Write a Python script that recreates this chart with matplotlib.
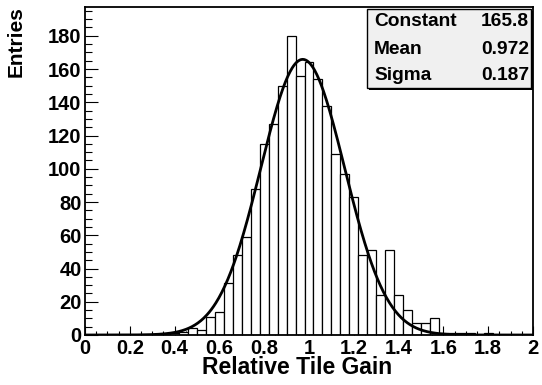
import numpy as np
import matplotlib
matplotlib.use("Agg")
import matplotlib.pyplot as plt
from matplotlib.patches import Rectangle
from matplotlib.ticker import MultipleLocator, FixedLocator

plt.rcParams['font.family'] = ['Liberation Sans', 'DejaVu Sans']
plt.rcParams['font.weight'] = 'bold'

# ---- data ----
bin_centers = [round(0.04 * i, 2) for i in range(51)]
counts = [0, 0, 0, 0, 0, 0, 0, 0, 0, 0,      # 0.00 - 0.36
          1, 2, 4, 3, 11, 14, 31, 48, 59, 88,  # 0.40 - 0.76
          115, 127, 150, 180, 156, 164, 154, 138, 109, 97,  # 0.80 - 1.16
          83, 48, 51, 24, 51, 24, 15, 7, 7, 10,  # 1.20 - 1.56
          1, 1, 1, 1, 0, 1, 0, 0, 0, 0, 0]       # 1.60 - 2.00
bin_width = 0.04
fit_constant = 165.8
fit_mean = 0.972
fit_sigma = 0.187
stat_names = ["Constant", "Mean", "Sigma"]
stat_values = ["165.8", "0.972", "0.187"]
x_ticks = [0, 0.2, 0.4, 0.6, 0.8, 1.0, 1.2, 1.4, 1.6, 1.8, 2.0]
x_ticklabels = ["0", "0.2", "0.4", "0.6", "0.8", "1", "1.2", "1.4", "1.6", "1.8", "2"]
y_ticks = [0, 20, 40, 60, 80, 100, 120, 140, 160, 180]
x_title = "Relative Tile Gain"
y_title = "Entries"

W, H = 542, 385
fig = plt.figure(figsize=(W / 100, H / 100), dpi=100)

def fx(px):
    return px / W

def fy(py):
    return 1 - py / H

ax_l, ax_r, ax_t, ax_b = 85, 533, 7, 335
ax = fig.add_axes([fx(ax_l), fy(ax_b), fx(ax_r) - fx(ax_l), fy(ax_t) - fy(ax_b)])

ax.bar(bin_centers, counts, width=bin_width, facecolor='white',
       edgecolor='black', linewidth=0.9, align='center', zorder=2)

xs = np.linspace(0, 2, 600)
ys = fit_constant * np.exp(-0.5 * ((xs - fit_mean) / fit_sigma) ** 2)
ax.plot(xs, ys, color='black', linewidth=2.0, zorder=3)

ax.set_xlim(0, 2)
ax.set_ylim(0, 197.3)
ax.xaxis.set_major_locator(FixedLocator(x_ticks))
ax.set_xticklabels(x_ticklabels)
ax.xaxis.set_minor_locator(MultipleLocator(0.05))
ax.yaxis.set_major_locator(FixedLocator(y_ticks))
ax.yaxis.set_minor_locator(MultipleLocator(5))

ax.tick_params(axis='x', which='major', direction='in', length=6.5, width=0.8,
               labelsize=14.5, pad=3)
ax.tick_params(axis='x', which='minor', direction='in', length=3.2, width=0.8)
ax.tick_params(axis='y', which='major', direction='in', length=9.4, width=0.8,
               labelsize=14.5, pad=2.5)
ax.tick_params(axis='y', which='minor', direction='in', length=4.7, width=0.8)
for lab in ax.get_xticklabels() + ax.get_yticklabels():
    lab.set_fontweight('bold')
for s in ax.spines.values():
    s.set_linewidth(1.3)

fig.text(fx(297), fy(368), x_title, ha='center', va='center',
         fontsize=16.5, fontweight='bold')
fig.text(fx(16), fy(6), y_title, ha='center', va='top', rotation=90,
         fontsize=15, fontweight='bold')

# stats box with shadow
bx0, bx1, by0, by1 = 367, 531, 9, 88
shadow = Rectangle((fx(bx0 + 2), fy(by1 + 2)), fx(bx1) - fx(bx0), fy(by0) - fy(by1),
                   transform=fig.transFigure, facecolor='black', edgecolor='none', zorder=5)
box = Rectangle((fx(bx0), fy(by1)), fx(bx1) - fx(bx0), fy(by0) - fy(by1),
                transform=fig.transFigure, facecolor='#f0f0f0', edgecolor='black',
                linewidth=1.0, zorder=6)
fig.add_artist(shadow)
fig.add_artist(box)
row_y = [21, 49, 76]
for name, val, ry in zip(stat_names, stat_values, row_y):
    fig.text(fx(374), fy(ry), name, ha='left', va='center', fontsize=13.8,
             fontweight='bold', zorder=7)
    fig.text(fx(529), fy(ry), val, ha='right', va='center', fontsize=13.8,
             fontweight='bold', zorder=7)

fig.savefig("out.png", dpi=100)
